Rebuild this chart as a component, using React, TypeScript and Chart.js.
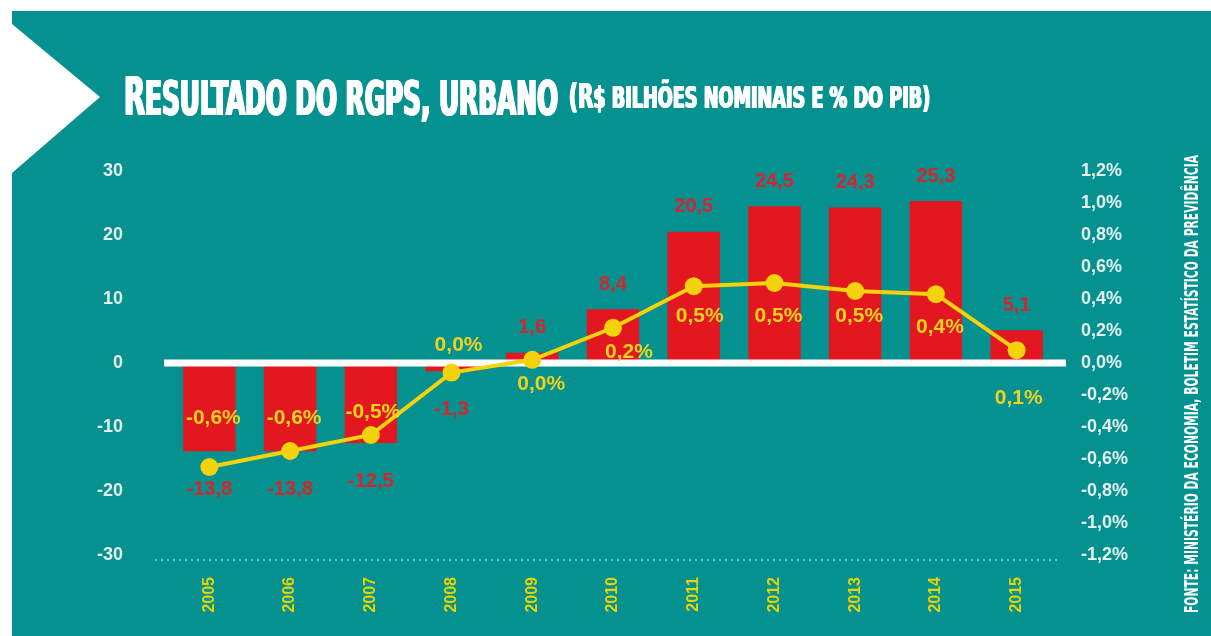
import React, { useEffect, useRef } from "react";
import { Chart, registerables } from "chart.js";

Chart.register(...registerables);

// ---------- data ----------
const years = ["2005", "2006", "2007", "2008", "2009", "2010", "2011", "2012", "2013", "2014", "2015"];
const resultBillions = [-13.8, -13.8, -12.5, -1.3, 1.6, 8.4, 20.5, 24.5, 24.3, 25.3, 5.1];
const resultPctGdp = [-0.65, -0.55, -0.45, -0.06, 0.02, 0.22, 0.48, 0.5, 0.45, 0.43, 0.08];
const pctLabels = ["-0,6%", "-0,6%", "-0,5%", "0,0%", "0,0%", "0,2%", "0,5%", "0,5%", "0,5%", "0,4%", "0,1%"];
const leftTicks = [-30, -20, -10, 0, 10, 20, 30];
const rightTicks = [-1.2, -1.0, -0.8, -0.6, -0.4, -0.2, 0, 0.2, 0.4, 0.6, 0.8, 1.0, 1.2];

const titleMain = "RESULTADO DO RGPS, URBANO";
const titleSub = "(R$ BILHÕES NOMINAIS E % DO PIB)";
const sourceText = "FONTE: MINISTÉRIO DA ECONOMIA, BOLETIM ESTATÍSTICO DA PREVIDÊNCIA";

// ---------- style ----------
const TEAL = "#04918f";
const RED = "#e3171f";
const RED_TXT = "#d4262e";
const YELLOW = "#f4d20c";
const YELLOW_TXT = "#eed31c";
const LIGHT = "#e2f2ef";
const FONT = "'Liberation Sans', Arial, sans-serif";
const TITLE_FONT = "'DejaVu Sans Condensed', 'DejaVu Sans', sans-serif";

// label placement relative to the point (px)
const pctLabelDx = [4, 4, 2, 7, 9, 16, 6, 4, 4, 4, 2];
const pctLabelDy = [-49, -33, -23, -27, 24, 24, 30, 33, 25, 33, 48];

const fmtNum = (v: number) => v.toFixed(1).replace(".", ",");
const fmtPct = (v: number) => {
  const x = Math.abs(v) < 1e-9 ? 0 : v;
  return x.toFixed(1).replace(".", ",") + "%";
};

function drawRuns(
  ctx: CanvasRenderingContext2D,
  runs: [string, number][],
  x: number,
  baseline: number,
  width: number,
  color: string,
  boldPx: number
) {
  ctx.save();
  ctx.fillStyle = color;
  ctx.textAlign = "left";
  ctx.textBaseline = "alphabetic";
  let total = 0;
  for (const [t, s] of runs) {
    ctx.font = `bold ${s}px ${TITLE_FONT}`;
    total += ctx.measureText(t).width;
  }
  const sx = (width - boldPx) / total;
  ctx.translate(x, baseline);
  ctx.scale(sx, 1);
  let cx = 0;
  for (const [t, s] of runs) {
    ctx.font = `bold ${s}px ${TITLE_FONT}`;
    for (let d = 0; d <= boldPx + 0.01; d += 0.5) {
      ctx.fillText(t, cx + d / sx, 0);
    }
    cx += ctx.measureText(t).width;
  }
  ctx.restore();
}

const decorPlugin = {
  id: "decor",
  beforeDraw(chart: any) {
    const ctx: CanvasRenderingContext2D = chart.ctx;
    const W = chart.width;
    const H = chart.height;
    ctx.save();
    ctx.fillStyle = "#ffffff";
    ctx.fillRect(0, 0, W, H);
    ctx.fillStyle = TEAL;
    ctx.fillRect(12, 11, W - 12, H - 11);
    // white chevron
    ctx.fillStyle = "#ffffff";
    ctx.beginPath();
    ctx.moveTo(12, 24);
    ctx.lineTo(100, 97);
    ctx.lineTo(12, 173);
    ctx.closePath();
    ctx.fill();
    ctx.restore();

    // title
    drawRuns(ctx, [["R", 53], [titleMain.slice(1), 48]], 123, 115, 436, "#ffffff", 2);
    drawRuns(ctx, [["(R", 34], [titleSub.slice(2), 30]], 568, 108, 363, "#ffffff", 1.5);

    // source (vertical)
    ctx.save();
    ctx.translate(1198, 613);
    ctx.rotate(-Math.PI / 2);
    ctx.fillStyle = "#ffffff";
    ctx.textAlign = "left";
    ctx.textBaseline = "alphabetic";
    ctx.font = `bold 19px ${TITLE_FONT}`;
    const w = ctx.measureText(sourceText).width;
    ctx.scale(458 / w, 1);
    ctx.fillText(sourceText, 0, 0);
    ctx.restore();
  },
  beforeDatasetsDraw(chart: any) {
    const ctx: CanvasRenderingContext2D = chart.ctx;
    const y = chart.scales.y.getPixelForValue(-30) + 5;
    ctx.save();
    ctx.fillStyle = "#8fd3cf";
    for (let x = 156; x < 1062; x += 6) {
      ctx.beginPath();
      ctx.arc(x, y, 1.1, 0, Math.PI * 2);
      ctx.fill();
    }
    ctx.restore();
  },
  afterDatasetDraw(chart: any, args: any) {
    if (args.index !== 1) return;
    const ctx: CanvasRenderingContext2D = chart.ctx;
    const y0 = chart.scales.y.getPixelForValue(0);
    ctx.save();
    ctx.fillStyle = "#ffffff";
    ctx.fillRect(164, y0 - 3.5, 902, 7);
    ctx.restore();
  },
  afterDatasetsDraw(chart: any) {
    const ctx: CanvasRenderingContext2D = chart.ctx;
    const barMeta = chart.getDatasetMeta(1);
    const lineMeta = chart.getDatasetMeta(0);
    ctx.save();
    ctx.textAlign = "center";
    ctx.textBaseline = "middle";
    ctx.font = `bold 20px ${FONT}`;
    ctx.fillStyle = RED_TXT;
    barMeta.data.forEach((el: any, i: number) => {
      const v = resultBillions[i];
      const y = v >= 0 ? el.y - 25 : el.y + 38;
      ctx.fillText(fmtNum(v), el.x, y);
    });
    ctx.font = `bold 21px ${FONT}`;
    ctx.fillStyle = YELLOW_TXT;
    lineMeta.data.forEach((el: any, i: number) => {
      ctx.fillText(pctLabels[i], el.x + pctLabelDx[i], el.y + pctLabelDy[i]);
    });
    ctx.restore();
  },
};

export default function App() {
  const ref = useRef<HTMLCanvasElement | null>(null);
  useEffect(() => {
    document.body.style.margin = "0";
    const canvas = ref.current;
    if (!canvas) return;
    const chart = new Chart(canvas, {
      type: "bar",
      data: {
        labels: years,
        datasets: [
          {
            type: "line",
            label: "% do PIB",
            data: resultPctGdp,
            yAxisID: "y1",
            borderColor: YELLOW,
            backgroundColor: YELLOW,
            borderWidth: 4,
            pointRadius: 9,
            pointBackgroundColor: YELLOW,
            pointBorderWidth: 0,
            tension: 0,
            order: 0,
          } as any,
          {
            type: "bar",
            label: "R$ bilhões",
            data: resultBillions,
            yAxisID: "y",
            backgroundColor: RED,
            barPercentage: 0.65,
            categoryPercentage: 1,
            order: 1,
          } as any,
        ],
      },
      options: {
        responsive: false,
        animation: false,
        layout: { padding: { top: 171, bottom: 0, left: 0, right: 0 } },
        plugins: {
          legend: { display: false },
          tooltip: { enabled: false },
        },
        scales: {
          x: {
            grid: { display: false, drawTicks: false },
            border: { display: false },
            ticks: {
              minRotation: 90,
              maxRotation: 90,
              autoSkip: false,
              padding: 22,
              color: "#e6d500",
              font: { family: FONT, size: 16, weight: "bold" },
            },
            afterFit: (s: any) => {
              s.height = 81;
            },
          },
          y: {
            position: "left",
            min: -30,
            max: 30,
            grid: { display: false, drawTicks: false },
            border: { display: false },
            afterBuildTicks: (s: any) => {
              s.ticks = leftTicks.map((v) => ({ value: v }));
            },
            ticks: {
              padding: 46,
              color: LIGHT,
              font: { family: FONT, size: 18, weight: "bold" },
              callback: (v: any) => String(v),
            },
            afterFit: (s: any) => {
              s.width = 169;
            },
          },
          y1: {
            position: "right",
            min: -1.2,
            max: 1.2,
            grid: { display: false, drawTicks: false },
            border: { display: false },
            afterBuildTicks: (s: any) => {
              s.ticks = rightTicks.map((v) => ({ value: v }));
            },
            ticks: {
              padding: 24,
              color: LIGHT,
              font: { family: FONT, size: 18, weight: "bold" },
              callback: (v: any) => fmtPct(Number(v)),
            },
            afterFit: (s: any) => {
              s.width = 154;
            },
          },
        },
      } as any,
      plugins: [decorPlugin],
    });
    return () => chart.destroy();
  }, []);
  return (
    <div style={{ width: 1211, height: 636 }}>
      <canvas ref={ref} width={1211} height={636} style={{ display: "block" }} />
    </div>
  );
}
